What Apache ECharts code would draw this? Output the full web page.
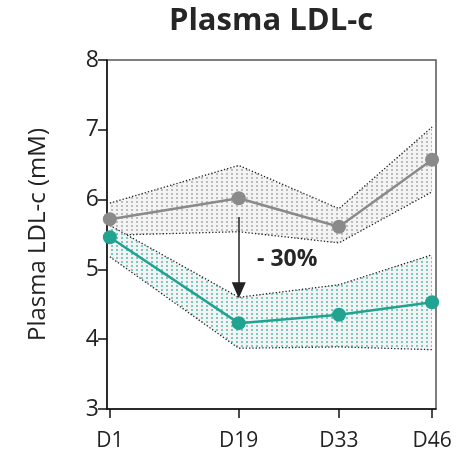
<!DOCTYPE html>
<html>
<head>
<meta charset="utf-8">
<script src="https://cdn.jsdelivr.net/npm/echarts@6/dist/echarts.min.js"></script>
<style>
  html, body { margin: 0; padding: 0; background: #fff; }
  #chart { width: 459px; height: 454px; }
</style>
</head>
<body>
<div id="chart"></div>
<script>
// Sampling days
const days = [1, 19, 33, 46];
const dayLabels = ['D1', 'D19', 'D33', 'D46'];

// Control group: mean and band limits (mM)
const ctrlMean  = [5.72, 6.02, 5.61, 6.57];
const ctrlUpper = [5.95, 6.49, 5.87, 7.04];
const ctrlLower = [5.49, 5.54, 5.38, 6.11];

// Treated group: mean and band limits (mM)
const trtMean  = [5.46, 4.23, 4.35, 4.53];
const trtUpper = [5.63, 4.60, 4.78, 5.21];
const trtLower = [5.18, 3.87, 3.89, 3.85];

// Arrow between groups at D19, and its label
const arrowDay = 19;
const arrowFrom = 5.75;
const arrowTo = 4.70;
const changeLabel = '- 30%';

const GREY = '#8a8a8a';
const TEAL = '#21a392';
const FONT = "'Open Sans', 'Noto Sans', sans-serif";

// Small tiled dot pattern used to fill the bands
function dotPattern(dotColor) {
  const c = document.createElement('canvas');
  c.width = 5; c.height = 4;
  const g = c.getContext('2d');
  g.fillStyle = '#f4f4f4';
  g.fillRect(0, 0, 5, 4);
  g.fillStyle = dotColor;
  g.fillRect(1, 1, 2, 2);
  return { image: c, repeat: 'repeat' };
}

function bandSeries(upper, lower, dotColor) {
  const pts = days.map((d, i) => [d, upper[i], lower[i]]);
  return {
    type: 'custom',
    data: pts,
    silent: true,
    z: 1,
    renderItem: function (params, api) {
      if (params.dataIndex !== 0) return null;
      const up = pts.map(p => api.coord([p[0], p[1]]));
      const lo = pts.map(p => api.coord([p[0], p[2]]));
      const poly = up.concat(lo.slice().reverse());
      return {
        type: 'group',
        children: [
          { type: 'polygon', shape: { points: poly },
            style: { fill: dotPattern(dotColor), stroke: null } },
          { type: 'polyline', shape: { points: up },
            style: { fill: null, stroke: '#222', lineWidth: 1.3, lineDash: [1.3, 2] } },
          { type: 'polyline', shape: { points: lo },
            style: { fill: null, stroke: '#222', lineWidth: 1.3, lineDash: [1.3, 2] } }
        ]
      };
    }
  };
}

function meanSeries(values, color) {
  return {
    type: 'line',
    data: days.map((d, i) => [d, values[i]]),
    symbol: 'circle',
    symbolSize: 14,
    z: 3,
    itemStyle: { color: color },
    lineStyle: { color: color, width: 2.5 },
    silent: true
  };
}

const chart = echarts.init(document.getElementById('chart'), null, { renderer: 'canvas' });

chart.setOption({
  animation: false,
  backgroundColor: '#fff',
  grid: {
    left: 107, right: 23, top: 60, bottom: 45,
    show: true, borderColor: '#555', borderWidth: 1.5, backgroundColor: 'transparent'
  },
  graphic: [
    {
      type: 'text', x: 271, y: 21,
      style: {
        text: 'Plasma LDL-c', font: "bold 31px " + FONT, fill: '#262626',
        textAlign: 'center', textVerticalAlign: 'middle'
      }
    },
    {
      type: 'text', x: 257, y: 259,
      style: {
        text: changeLabel, font: "bold 23px " + FONT, fill: '#262626',
        textAlign: 'left', textVerticalAlign: 'middle'
      }
    }
  ],
  xAxis: {
    type: 'value',
    min: 0.6, max: 46.55,
    splitLine: { show: false },
    axisLine: { show: true, lineStyle: { color: '#111', width: 1.5 } },
    axisTick: { show: true, customValues: days, length: 9, lineStyle: { color: '#111', width: 1.5 } },
    axisLabel: {
      customValues: days,
      formatter: v => dayLabels[days.indexOf(v)],
      color: '#222', fontSize: 21, fontFamily: FONT, margin: 22
    }
  },
  yAxis: {
    type: 'value',
    min: 3, max: 8, interval: 1,
    name: 'Plasma LDL-c (mM)',
    nameLocation: 'middle',
    nameGap: 57,
    nameTextStyle: { color: '#222', fontSize: 24, fontFamily: FONT },
    splitLine: { show: false },
    axisLine: { show: true, lineStyle: { color: '#111', width: 1.5 } },
    axisTick: { show: true, length: 9, lineStyle: { color: '#111', width: 1.5 } },
    axisLabel: { color: '#222', fontSize: 23, fontFamily: FONT, margin: 8 }
  },
  series: [
    bandSeries(ctrlUpper, ctrlLower, '#bcbcbc'),
    bandSeries(trtUpper, trtLower, '#7acabf'),
    meanSeries(ctrlMean, GREY),
    meanSeries(trtMean, TEAL),
    {
      type: 'line',
      data: [],
      silent: true,
      z: 4,
      markLine: {
        silent: true,
        symbol: ['none', 'triangle'],
        symbolSize: [14, 16],
        label: { show: false },
        lineStyle: { color: '#222', width: 1.5, type: 'solid' },
        data: [[{ coord: [arrowDay, arrowFrom] }, { coord: [arrowDay, arrowTo] }]]
      }
    }
  ]
});
</script>
</body>
</html>
